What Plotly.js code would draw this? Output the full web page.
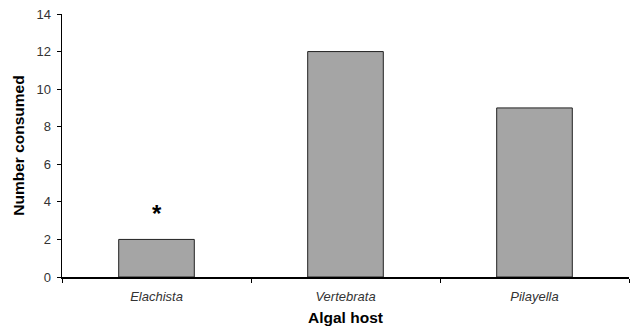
<!DOCTYPE html>
<html><head><meta charset="utf-8">
<script src="https://cdn.plot.ly/plotly-3.0.1.min.js"></script>
<style>html,body{margin:0;padding:0;background:#fff}#chart{width:632px;height:326px}</style>
</head><body><div id="chart"></div>
<script>
const categories = ["Elachista", "Vertebrata", "Pilayella"];
const consumed = [2, 12, 9];
const yTicks = [0, 2, 4, 6, 8, 10, 12, 14];
const markers = ["*", "", ""];
const markerY = [3.4, null, null];

const trace = {
  type: "bar",
  x: categories,
  y: consumed,
  width: 0.4,
  marker: {color: "#a5a5a5", line: {color: "#222", width: 1}},
  hoverinfo: "none"
};

const annotations = categories.map((c, i) => markers[i] ? {
  x: c, y: markerY[i], text: "<b>" + markers[i] + "</b>", showarrow: false,
  font: {family: "Liberation Sans, Arial", size: 24, color: "#000"}
} : null).filter(a => a);

const layout = {
  width: 632, height: 326,
  margin: {l: 62, r: 3, t: 14, b: 49},
  paper_bgcolor: "#fff", plot_bgcolor: "#fff",
  showlegend: false,
  font: {family: "Liberation Sans, Arial", color: "#222", size: 13},
  xaxis: {
    type: "category",
    tickvals: categories,
    ticktext: categories.map(c => "<i>" + c + "</i>"),
    tickson: "boundaries",
    ticks: "outside", ticklen: 4, tickcolor: "#000",
    ticklabelstandoff: 7,
    showline: true, linecolor: "#000", linewidth: 1.5,
    showgrid: false, zeroline: false,
    tickfont: {size: 13, color: "#333"},
    title: {text: "<b>Algal host</b>", font: {size: 15.5, color: "#000"}, standoff: 10}
  },
  yaxis: {
    range: [0, 14],
    tickvals: yTicks,
    ticks: "outside", ticklen: 4, tickcolor: "#000",
    ticklabelstandoff: 3,
    showline: true, linecolor: "#000", linewidth: 1.5,
    showgrid: false, zeroline: false,
    tickfont: {size: 13, color: "#333"},
    title: {text: "<b>Number consumed</b>", font: {size: 15.5, color: "#000"}, standoff: 8}
  },
  annotations: annotations
};

Plotly.newPlot("chart", [trace], layout, {staticPlot: true});
</script></body></html>
